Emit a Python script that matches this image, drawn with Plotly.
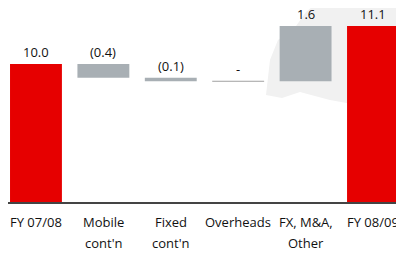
import plotly.graph_objects as go

categories = ["FY 07/08", "Mobile<br>cont'n", "Fixed<br>cont'n", "Overheads", "FX, M&A,<br>Other", "FY 08/09"]
values = [10.0, -0.4, -0.1, 0.0, 1.6, 11.1]
measures = ["total", "relative", "relative", "relative", "relative", "total"]
labels = ["10.0", "(0.4)", "(0.1)", "-", "1.6", "11.1"]

RED = "#e60000"
GREY = "#a8afb4"
FONT = "Open Sans"
TXT = "#111111"

# compute floating bar geometry from the data
bases, heights, colors, tops = [], [], [], []
level = 0.0
for v, m in zip(values, measures):
    if m == "total":
        level = v
        bases.append(0.0)
        heights.append(v)
        colors.append(RED)
        tops.append(v)
    else:
        start = level
        level = level + v
        lo, hi = min(start, level), max(start, level)
        bases.append(lo)
        heights.append(hi - lo)
        colors.append(GREY)
        tops.append(hi)

fig = go.Figure()

# faint background map watermark (decorative)
W, H = 396.0, 194.0
def px(x, y):
    return (x - 8) / W, (202 - y) / H
pts = [(266, 95), (270, 60), (278, 40), (296, 26), (306, 12), (318, 2), (330, -8),
       (404, -8), (404, 135), (392, 128), (378, 118), (352, 104), (330, 100),
       (300, 92), (282, 98)]
path = "M " + " L ".join(f"{px(x, y)[0]:.4f},{px(x, y)[1]:.4f}" for x, y in pts) + " Z"
fig.add_shape(type="path", xref="paper", yref="paper", path=path,
              fillcolor="#f1f1f1", line=dict(width=0), layer="below")

fig.add_trace(go.Bar(
    x=categories, y=heights, base=bases,
    marker=dict(color=colors, line=dict(width=0)),
    width=0.77, hoverinfo="skip",
))

half = 0.77 / 2
for i, (h, t) in enumerate(zip(heights, tops)):
    if h == 0:
        fig.add_shape(type="line", xref="x", yref="y",
                      x0=i - half, x1=i + half, y0=t, y1=t,
                      line=dict(color="#a0a0a0", width=1))

for i, (lab, t) in enumerate(zip(labels, tops)):
    fig.add_annotation(x=categories[i], y=t, text=lab, showarrow=False,
                       yanchor="middle", yshift=12,
                       font=dict(family=FONT, size=13, color=TXT))

# category labels, two lines with wider spacing
for i, c in enumerate(categories):
    parts = c.split("<br>")
    for j, p in enumerate(parts):
        fig.add_annotation(x=categories[i], y=0, yref="paper", text=p, showarrow=False,
                           yanchor="middle", yshift=-20 - 21 * j,
                           font=dict(family=FONT, size=13, color=TXT))

fig.update_layout(
    width=396, height=245,
    margin=dict(l=0, r=0, t=0, b=51),
    paper_bgcolor="white", plot_bgcolor="rgba(0,0,0,0)",
    showlegend=False,
    xaxis=dict(range=[-0.415, 5.46], showline=True, linecolor="#444", linewidth=1.5,
               ticks="", showgrid=False, automargin=False, showticklabels=False),
    yaxis=dict(range=[6.0, 11.623], visible=False, showgrid=False, zeroline=False,
               automargin=False),
)

fig.write_html("out.html")
